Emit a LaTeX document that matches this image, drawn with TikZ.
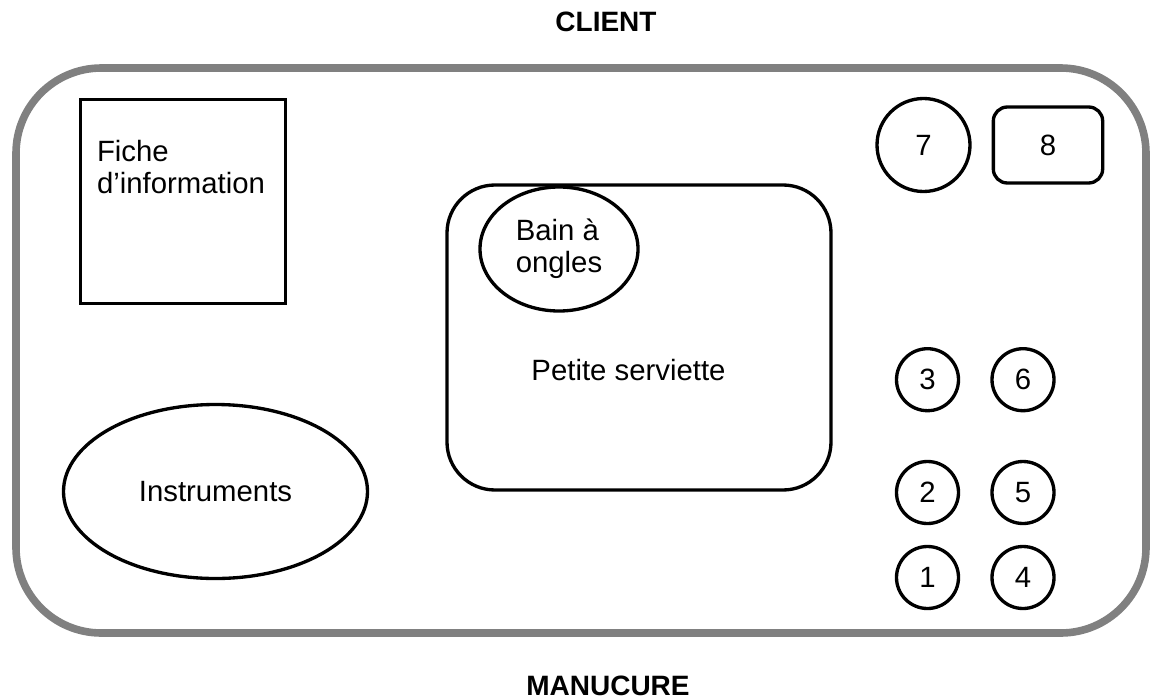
\documentclass[tikz,border=0pt]{standalone}
\usepackage{fontspec}
\setmainfont{Liberation Sans}
\usetikzlibrary{shapes.geometric}
\definecolor{outergray}{HTML}{808080}
\begin{document}
\begin{tikzpicture}[x=0.75pt,y=-0.75pt,
  shp/.style={draw=black, line width=2.5pt, inner sep=0pt, outer sep=0pt},
  txt/.style={font=\fontsize{22}{24}\selectfont},
  lbl/.style={txt, inner sep=0pt, outer sep=0pt},
  ttl/.style={font=\fontsize{21}{24}\selectfont\bfseries, inner sep=0pt, anchor=base},
  bigc/.style={shp, txt, circle, minimum size=69.75pt},
  smallc/.style={shp, txt, circle, minimum size=46.5pt}]
\useasboundingbox (0,0) rectangle (1150,700);
% titles
\node[ttl] (client) at (606,31.7) {CLIENT};
\node[ttl] (manucure) at (608,695) {MANUCURE};
% outer frame
\draw[draw=outergray, line width=5.7pt, rounded corners=64pt] (16,68) rectangle (1146,633);
% fiche
\node[shp, rectangle, minimum width=153.75pt, minimum height=153pt] (fiche) at (183,201.5) {};
\node[lbl, align=left, anchor=base west] (fichetxt) at (97,193) {Fiche\\d’information};
% petite serviette
\node[shp, rectangle, rounded corners=36pt, minimum width=288pt, minimum height=228.75pt] (serv) at (639,337.5) {};
\node[lbl, anchor=base] (servtxt) at (628.5,380.7) {Petite serviette};
\node[shp, txt, ellipse, align=left, minimum width=118.5pt, minimum height=93pt] (bain) at (559,249) {Bain à\\ongles};
% instruments
\node[shp, txt, ellipse, minimum width=228pt, minimum height=130.5pt] (instr) at (215.5,491.5) {Instruments};
% 7 and 8
\node[bigc] (n7) at (923.5,145) {7};
\node[shp, txt, rectangle, rounded corners=10.5pt, minimum width=82pt, minimum height=57pt] (n8) at (1048,145) {8};
% small circles
\node[smallc] (n3) at (927.5,379.7) {3};
\node[smallc] (n6) at (1023,379.7) {6};
\node[smallc] (n2) at (927.5,492.5) {2};
\node[smallc] (n5) at (1023,492.5) {5};
\node[smallc] (n1) at (927.5,577.5) {1};
\node[smallc] (n4) at (1023,577.5) {4};
\end{tikzpicture}
\end{document}
